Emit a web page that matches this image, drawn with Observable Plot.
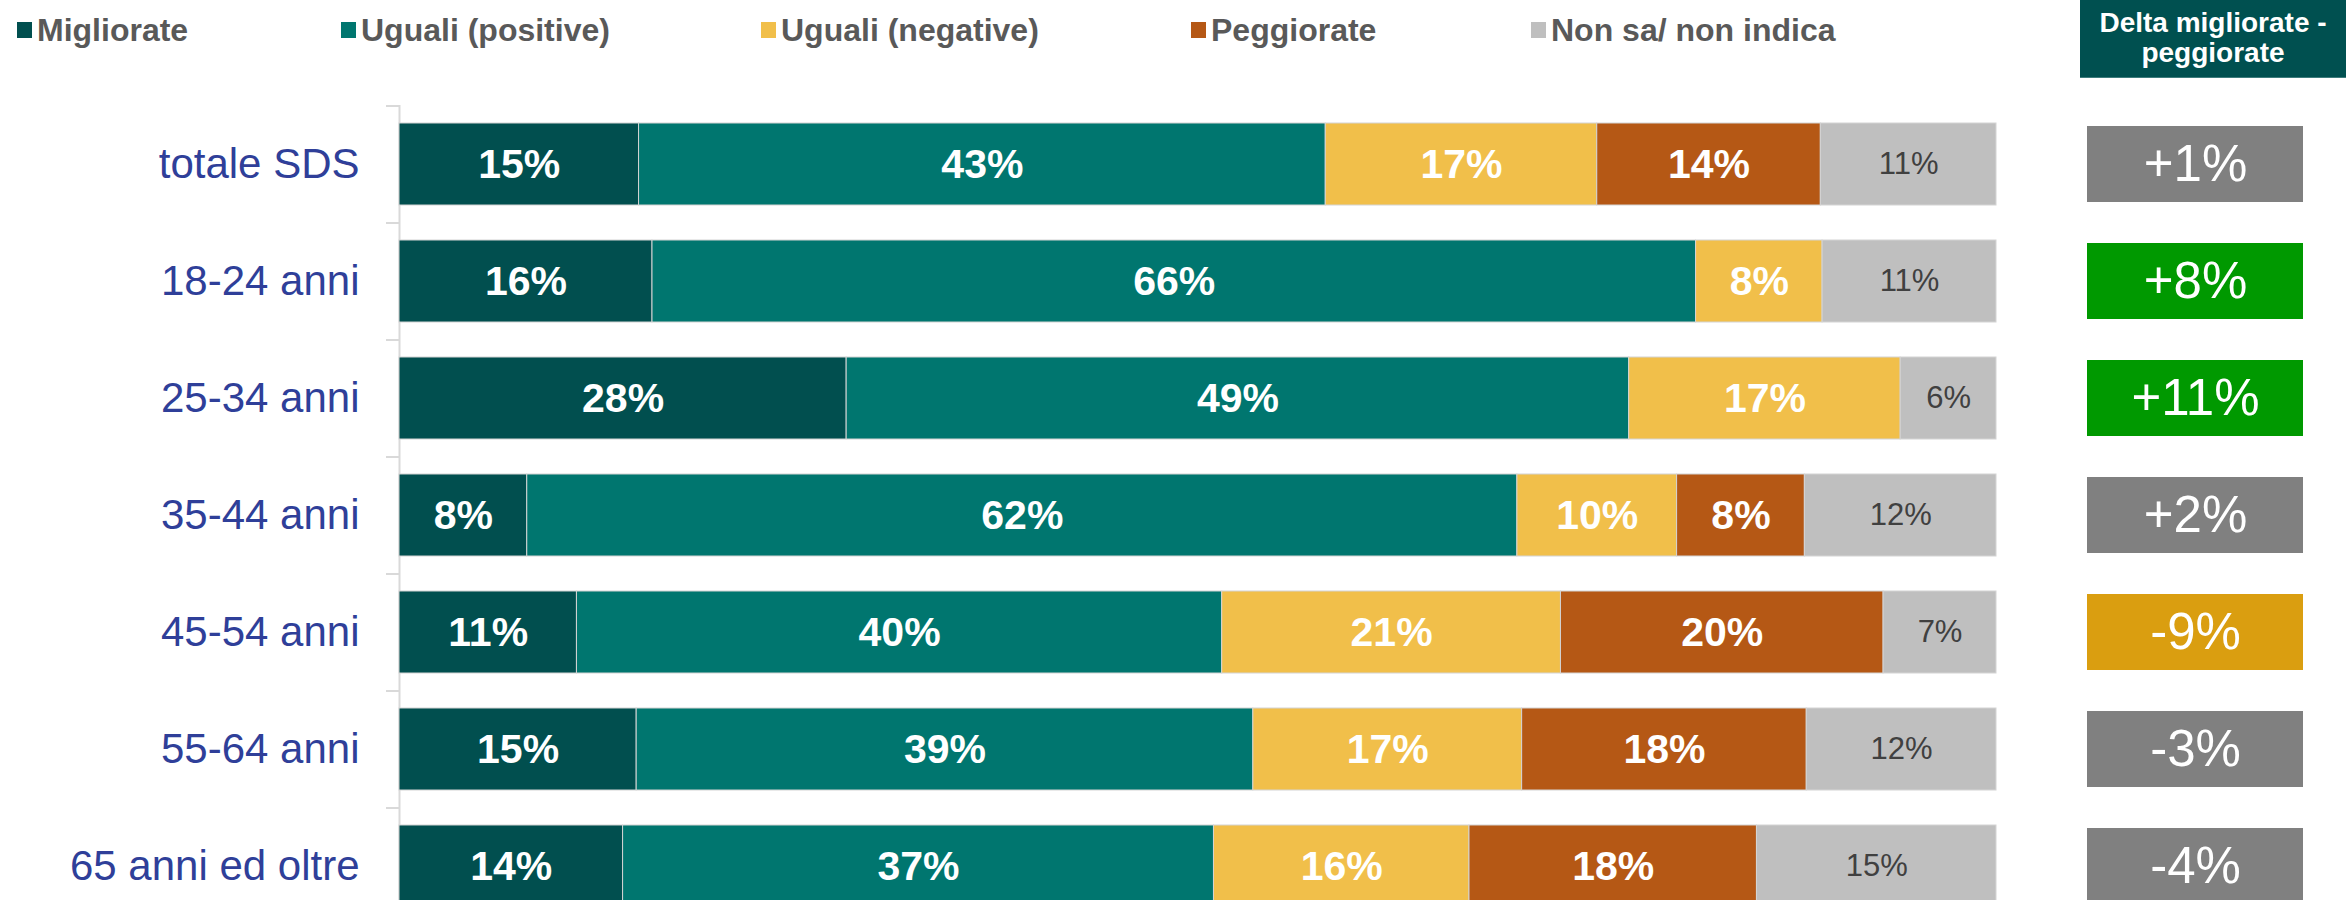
<!DOCTYPE html>
<html><head><meta charset="utf-8">
<script src="https://cdn.jsdelivr.net/npm/d3@7"></script>
<script src="https://cdn.jsdelivr.net/npm/@observablehq/plot@0.6"></script>
<style>
html,body{margin:0;padding:0;overflow:hidden;background:#fff;width:2346px;height:900px;}
#root{position:relative;width:2346px;height:900px;font-family:"Liberation Sans",Arial,sans-serif;}
.sw{position:absolute;top:22px;width:15px;height:16px;}
.lt{position:absolute;top:14px;font-size:32px;line-height:32px;font-weight:bold;color:#595959;white-space:nowrap;}
#hdr{position:absolute;left:2080px;top:0;width:266px;height:78px;background:#005050;color:#fff;font-weight:bold;font-size:28px;line-height:30px;text-align:center;box-sizing:border-box;padding-top:8px;border-bottom:1px solid #3d7c7c;}
</style></head><body><div id="root"></div>
<script>
// ---- data ----
const categories = ["totale SDS","18-24 anni","25-34 anni","35-44 anni","45-54 anni","55-64 anni","65 anni ed oltre"];
const seriesNames = ["Migliorate","Uguali (positive)","Uguali (negative)","Peggiorate","Non sa/ non indica"];
const migliorate     = [15,16,28, 8,11,15,14];
const ugualiPositive = [43,66,49,62,40,39,37];
const ugualiNegative = [17, 8,17,10,21,17,16];
const peggiorate     = [14, 0, 0, 8,20,18,18];
const nonSa          = [11,11, 6,12, 7,12,15];
const delta          = [1, 8, 11, 2, -9, -3, -4];
const deltaTitle = ["Delta migliorate -", "peggiorate"];

// ---- styles ----
const seriesColors = ["#014f4f","#00766f","#f1bf4a","#b55815","#bfbfbf"];
const font = '"Liberation Sans", Arial, sans-serif';
const deltaColor = v => v >= 5 ? "#009900" : v <= -5 ? "#da9e10" : "#808080";
const fmtDelta = v => (v > 0 ? "+" : "") + v + "%";

const seriesValues = [migliorate, ugualiPositive, ugualiNegative, peggiorate, nonSa];
const rows = [];
categories.forEach((c, i) => seriesValues.forEach((vals, j) => {
  if (vals[i] > 0) rows.push({cat: c, series: seriesNames[j], value: vals[i]});
}));
const stack = extra => Plot.stackX({x: "value", y: "cat", z: "series", offset: "normalize", ...extra});

const root = document.getElementById("root");

// legend
const legendLeft = [17, 341, 761, 1191, 1531];
seriesNames.forEach((s, j) => {
  const sw = document.createElement("div");
  sw.className = "sw"; sw.style.left = legendLeft[j] + "px"; sw.style.background = seriesColors[j];
  root.appendChild(sw);
  const t = document.createElement("div");
  t.className = "lt"; t.style.left = (legendLeft[j] + 20) + "px"; t.textContent = s;
  root.appendChild(t);
});

// header
const hdr = document.createElement("div");
hdr.id = "hdr"; hdr.innerHTML = deltaTitle.join("<br>");
root.appendChild(hdr);

const yRange = [105.5, 924.5];

const main = Plot.plot({
  width: 2050, height: 900, marginLeft: 399, marginRight: 54, marginTop: 105, marginBottom: 0,
  style: {fontFamily: font, background: "transparent"},
  x: {domain: [0, 1], axis: null},
  y: {domain: categories, range: yRange, paddingInner: 0.3, paddingOuter: 0.15, label: null},
  color: {domain: seriesNames, range: seriesColors},
  marks: [
    Plot.ruleX([0], {stroke: "#d9d9d9", strokeWidth: 2}),
    Plot.barX(rows, stack({fill: "series", stroke: "#d4d4d4", strokeWidth: 1})),
    Plot.axisY({tickSize: 13, tickFormat: () => "", dy: -58.5, stroke: "#d9d9d9", strokeWidth: 2, label: null}),
    Plot.axisY({tickSize: 0, tickPadding: 40, fontSize: 42, fill: "#2f3f99", label: null}),
    Plot.text(rows, stack({text: d => d.series !== seriesNames[4] ? d.value + "%" : "", fill: "white", fontWeight: "bold", fontSize: 41})),
    Plot.text(rows, stack({text: d => d.series === seriesNames[4] ? d.value + "%" : "", fill: "#404040", fontSize: 31}))
  ]
});
main.style.position = "absolute"; main.style.left = "0px"; main.style.top = "0px";
root.appendChild(main);

const deltaRows = categories.map((c, i) => ({cat: c, delta: delta[i]}));
const dplot = Plot.plot({
  width: 296, height: 900, marginLeft: 37, marginRight: 43, marginTop: 105, marginBottom: 0,
  style: {fontFamily: font, background: "transparent"},
  x: {domain: ["d"], padding: 0, axis: null},
  y: {domain: categories, range: yRange, paddingInner: 0.35, paddingOuter: 0.175, axis: null},
  color: {type: "identity"},
  marks: [
    Plot.cell(deltaRows, {x: () => "d", y: "cat", fill: d => deltaColor(d.delta), inset: 0}),
    Plot.text(deltaRows, {x: () => "d", y: "cat", text: d => fmtDelta(d.delta), fill: "white", fontSize: 51})
  ]
});
dplot.style.position = "absolute"; dplot.style.left = "2050px"; dplot.style.top = "0px";
root.appendChild(dplot);
</script>
</body></html>
